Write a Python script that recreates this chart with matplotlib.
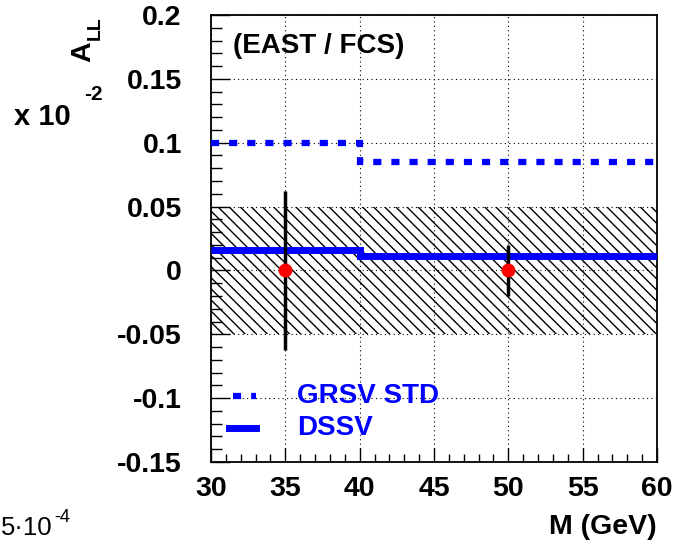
import numpy as np
import matplotlib
matplotlib.use("Agg")
import matplotlib.pyplot as plt
from matplotlib.ticker import MultipleLocator

plt.rcParams['font.family'] = ['Liberation Sans', 'DejaVu Sans']
plt.rcParams['font.weight'] = 'bold'
plt.rcParams['hatch.linewidth'] = 1.0

# data
edges = [30, 40, 60]
grsv_std = [0.100, 0.085]
dssv = [0.016, 0.011]
meas_x = [35, 50]
meas_y = [0.0, 0.0]
meas_err = [0.062, 0.020]
band_lo, band_hi = -0.05, 0.05

fs = 20.5
fig = plt.figure(figsize=(6.76, 5.5), dpi=100)
ax = fig.add_axes([211 / 676, 1 - 462 / 550, 446 / 676, 447 / 550])

ax.set_xlim(30, 60)
ax.set_ylim(-0.15, 0.2)

# systematic band
ax.fill_between([edges[0], edges[-1]], band_lo, band_hi, facecolor='none',
                edgecolor='black', hatch='\\\\\\', linewidth=0, zorder=1)

ax.grid(True, which='major', color='black', linestyle=(0, (1, 3)), linewidth=0.8, zorder=0)
ax.set_axisbelow(True)

# curves
ax.stairs(grsv_std, edges, baseline=None, color='#0000ff', linewidth=4.5,
          linestyle=(0, (1.3, 1.6)), zorder=3)
ax.stairs(dssv, edges, baseline=None, color='#0000ff', linewidth=5, zorder=3)

# measured points
ax.errorbar(meas_x, meas_y, yerr=meas_err, fmt='o', color='red', ecolor='black',
            elinewidth=2.5, markersize=9, capsize=0, zorder=4)

ax.xaxis.set_major_locator(MultipleLocator(5))
ax.xaxis.set_minor_locator(MultipleLocator(1))
ax.yaxis.set_major_locator(MultipleLocator(0.05))
ax.yaxis.set_minor_locator(MultipleLocator(0.01))
ax.tick_params(which='both', direction='in', top=False, right=False, labelsize=fs, width=1)
ax.tick_params(axis='x', which='major', length=10, pad=10)
ax.tick_params(axis='x', which='minor', length=6)
ax.tick_params(axis='y', which='major', length=14, pad=21)
ax.tick_params(axis='y', which='minor', length=8)
ax.set_xticks([30, 35, 40, 45, 50, 55, 60])
ax.set_xticklabels(['30', '35', '40', '45', '50', '55', '60'])
ax.set_yticks([-0.15, -0.1, -0.05, 0, 0.05, 0.1, 0.15, 0.2])
ax.set_yticklabels(['-0.15', '-0.1', '-0.05', '0', '0.05', '0.1', '0.15', '0.2'])
for s in ax.spines.values():
    s.set_linewidth(1.3)

ax.text(31.5, 0.176, '(EAST / FCS)', fontsize=20, fontweight='bold', va='center', ha='left')

# legend
ax.plot([31.5, 33.0], [-0.0985, -0.0985], color='#0000ff', linewidth=4.5, linestyle=(0, (1.3, 1.6)))
ax.plot([31.2, 33.0], [-0.1235, -0.1235], color='#0000ff', linewidth=5)
ax.text(35.8, -0.0985, 'GRSV STD', color='#0000ff', fontsize=20, fontweight='bold', va='center')
ax.text(35.8, -0.1235, 'DSSV', color='#0000ff', fontsize=20, fontweight='bold', va='center')

# axis titles
fig.text(657 / 676, 1 - 527 / 550, 'M (GeV)', fontsize=fs, fontweight='bold', ha='right', va='center')
fig.text(83 / 676, 1 - 52 / 550, 'A', fontsize=fs, fontweight='bold', rotation=90, ha='center', va='center')
fig.text(95 / 676, 1 - 28 / 550, 'LL', fontsize=14, fontweight='bold', rotation=90, ha='center', va='center')
fig.text(14 / 676, 1 - 117 / 550, 'x 10', fontsize=21, fontweight='bold', ha='left', va='center')
fig.text(84 / 676, 1 - 94 / 550, '-2', fontsize=15, fontweight='bold', ha='left', va='center')
fig.text(53 / 676, 1 - 528 / 550, '5\u00b710', fontsize=18.5, fontweight='normal', ha='right', va='center')
fig.text(54 / 676, 1 - 517 / 550, '-4', fontsize=13, fontweight='normal', ha='left', va='center')

fig.savefig('out.png', dpi=100)
